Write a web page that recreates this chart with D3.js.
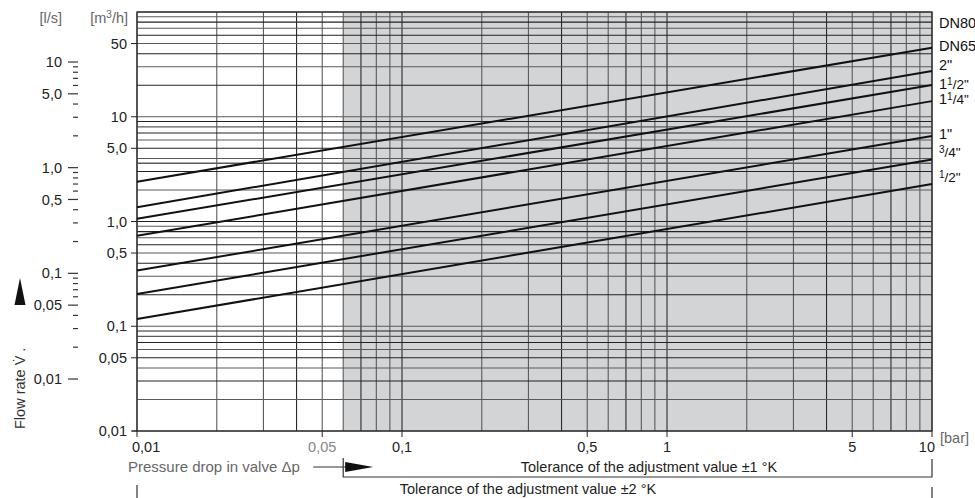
<!DOCTYPE html>
<html><head><meta charset="utf-8">
<script src="https://cdn.jsdelivr.net/npm/d3@7"></script>
<style>body{margin:0;background:#fff} svg{display:block;font-family:"Liberation Sans",Arial,Helvetica,sans-serif}</style>
</head><body><svg id="c" width="975" height="498"></svg>
<script>
// ---- data ----
const pipeSizes = ["DN80", "DN65", "2\"", "1 1/2\"", "1 1/4\"", "1\"", "3/4\"", "1/2\""];
const flowAtLowDp = [null, 2.40, 1.37, 1.06, 0.73, 0.34, 0.203, 0.117];   // m3/h at 0.01 bar
const flowAtHighDp = [75, 45.6, 27.3, 20.1, 14.1, 6.55, 3.91, 2.28];      // m3/h at 10 bar
const dpRange = [0.01, 10];
const shadedFrom = 0.06;
const m3hTicks = [50, 10, 5, 1, 0.5, 0.1, 0.05, 0.01];
const m3hTickLabels = ["50", "10", "5,0", "1,0", "0,5", "0,1", "0,05", "0,01"];
const lsTicks = [10, 5, 1, 0.5, 0.1, 0.05, 0.01];
const lsTickLabels = ["10", "5,0", "1,0", "0,5", "0,1", "0,05", "0,01"];
const dpTicks = [0.01, 0.05, 0.1, 0.5, 1, 5, 10];
const dpTickLabels = ["0,01", "0,05", "0,1", "0,5", "1", "5", "10"];
const extraFlowLines = [3.6];
const toleranceFrom = [0.06, 0.01];
const toleranceLabels = ["Tolerance of the adjustment value ±1 °K", "Tolerance of the adjustment value ±2 °K"];

// ---- layout ----
const L = 137, R = 932, T = 12, B = 431;
const svg = d3.select("#c");
const x = d3.scaleLog().domain([0.01, 10]).range([L, R]);
const y = d3.scaleLog().domain([0.01, 100]).range([B, T]);
const yls = d3.scaleLog().domain([0.01, 10]).range([379, 62]);

// shading
svg.append("rect").attr("x", x(shadedFrom)).attr("y", T)
  .attr("width", x(10) - x(shadedFrom)).attr("height", B - T).attr("fill", "#d3d4d6");

// grid
const gx = [], gy = [];
for (let d = 0.01; d < 10 - 1e-9; d *= 10) for (let k = 1; k <= 9; k++) gx.push(+(d * k).toPrecision(3));
gx.push(10);
for (let d = 0.01; d < 100 - 1e-9; d *= 10) for (let k = 1; k <= 9; k++) gy.push(+(d * k).toPrecision(3));
gy.push(100);
const grid = svg.append("g");
grid.selectAll("line.v").data(gx).join("line").attr("class", "v")
  .attr("x1", d => x(d)).attr("x2", d => x(d)).attr("y1", T).attr("y2", B)
  .attr("stroke", (d, i) => (i % 3 === 0 ? "#2a2a2a" : "#5a5a5a")).attr("stroke-width", 1.1);
grid.selectAll("line.h").data(gy.concat(extraFlowLines)).join("line").attr("class", "h")
  .attr("x1", L).attr("x2", R).attr("y1", d => y(d)).attr("y2", d => y(d))
  .attr("stroke", (d, i) => (i % 2 === 0 ? "#222" : "#5a5a5a"))
  .attr("stroke-width", d => extraFlowLines.includes(d) ? 1.6 : 1.1);

// frame
svg.append("rect").attr("x", L).attr("y", T).attr("width", R - L).attr("height", B - T)
  .attr("fill", "none").attr("stroke", "#333").attr("stroke-width", 1.2);

// characteristic lines
const line = d3.line().x(d => x(d[0])).y(d => y(d[1]));
const lines = pipeSizes.map((n, i) => ({ name: n, lo: flowAtLowDp[i], hi: flowAtHighDp[i] }));
svg.append("g").selectAll("path").data(lines.filter(d => d.lo != null)).join("path")
  .attr("d", d => line([[dpRange[0], d.lo], [dpRange[1], d.hi]]))
  .attr("fill", "none").attr("stroke", "#111").attr("stroke-width", 2);

// series labels
const labelNudge = { "2\"": -4, "1 1/2\"": 1 };
const lab = svg.append("g").attr("font-size", 14.5).attr("fill", "#111");
lines.forEach(d => {
  const t = lab.append("text").attr("x", R + 7).attr("y", y(d.hi) - 2 + (labelNudge[d.name] || 0)).attr("dy", "0.35em");
  const m = d.name.match(/^(?:(\d+) )?(\d)\/(\d)(")$/);
  if (m) {
    if (m[1]) t.append("tspan").text(m[1]);
    t.append("tspan").attr("font-size", 10).attr("dy", -4).text(m[2]);
    t.append("tspan").attr("font-size", 13.5).attr("dy", 4).text("/" + m[3] + m[4]);
  } else t.text(d.name);
});

// m3/h axis
const ya = svg.append("g").attr("font-size", 14.5).attr("fill", "#222");
m3hTicks.forEach((v, i) => {
  ya.append("line").attr("x1", L - 6).attr("x2", L).attr("y1", y(v)).attr("y2", y(v)).attr("stroke", "#222");
  ya.append("text").attr("x", L - 10).attr("y", y(v)).attr("dy", "0.35em").attr("text-anchor", "end").text(m3hTickLabels[i]);
});
svg.append("line").attr("x1", L - 5).attr("x2", L).attr("y1", B).attr("y2", B).attr("stroke", "#222");

// l/s axis
const la = svg.append("g").attr("font-size", 14.5).attr("fill", "#222");
const lsMinor = [];
for (let d = 0.01; d < 10 - 1e-9; d *= 10) for (let k = 2; k <= 9; k++) if (k !== 5) lsMinor.push(d * k);
lsMinor.forEach(v => la.append("line").attr("x1", 73).attr("x2", 78).attr("y1", yls(v)).attr("y2", yls(v))
  .attr("stroke", "#333").attr("stroke-width", 1.2));
lsTicks.forEach((v, i) => {
  la.append("line").attr("x1", 68).attr("x2", 78).attr("y1", yls(v)).attr("y2", yls(v)).attr("stroke", "#333").attr("stroke-width", 1.2);
  la.append("text").attr("x", 62).attr("y", yls(v)).attr("dy", "0.35em").attr("text-anchor", "end").text(lsTickLabels[i]);
});

// units
svg.append("text").attr("x", 62).attr("y", 23).attr("text-anchor", "end").attr("font-size", 14.5).attr("fill", "#666").text("[l/s]");
const mu = svg.append("text").attr("x", 128).attr("y", 23).attr("text-anchor", "end").attr("font-size", 14.5).attr("fill", "#666");
mu.append("tspan").text("[m");
mu.append("tspan").attr("font-size", 10).attr("dy", -5).text("3");
mu.append("tspan").attr("dy", 5).text("/h]");

// x axis
const xa = svg.append("g").attr("font-size", 14.5);
dpTicks.forEach((v, i) => {
  xa.append("line").attr("x1", x(v)).attr("x2", x(v)).attr("y1", B).attr("y2", B + 6).attr("stroke", "#222");
  const last = i === dpTicks.length - 1, first = i === 0;
  xa.append("text").attr("x", x(v) + (first ? -5 : last ? 3 : 0)).attr("y", B + 21)
    .attr("text-anchor", first ? "start" : last ? "end" : "middle")
    .attr("fill", v === 0.05 ? "#888" : "#222").text(dpTickLabels[i]);
});
svg.append("text").attr("x", R + 8).attr("y", B + 12).attr("font-size", 14.5).attr("fill", "#666").text("[bar]");

// pressure drop label + arrow
svg.append("text").attr("x", 128).attr("y", B + 41).attr("font-size", 15).attr("fill", "#666").text("Pressure drop in valve Δp");
const ax0 = x(toleranceFrom[0]);
svg.append("line").attr("x1", ax0 - 30).attr("x2", ax0 + 5).attr("y1", B + 36).attr("y2", B + 36).attr("stroke", "#333").attr("stroke-width", 1.2);
svg.append("path").attr("d", `M${ax0 + 30},${B + 36} L${ax0 + 2},${B + 31} L${ax0 + 2},${B + 41} Z`).attr("fill", "#111");

// tolerance brackets
const b1 = x(toleranceFrom[0]), b2 = x(toleranceFrom[1]);
svg.append("path").attr("d", `M${b1},${B + 27} V${B + 46} H${x(10)} V${B + 28}`).attr("fill", "none").attr("stroke", "#333").attr("stroke-width", 1.2);
svg.append("text").attr("x", 649).attr("y", B + 41).attr("text-anchor", "middle").attr("font-size", 14.5).attr("fill", "#222").text(toleranceLabels[0]);
svg.append("path").attr("d", `M${b2},${B + 54} V${B + 67} M${x(10)},${B + 56} V${B + 67}`).attr("fill", "none").attr("stroke", "#333").attr("stroke-width", 1.2);
svg.append("text").attr("x", 528).attr("y", B + 63).attr("text-anchor", "middle").attr("font-size", 14.5).attr("fill", "#222").text(toleranceLabels[1]);

// y title + arrow
svg.append("text").attr("transform", "translate(25,429) rotate(-90)").attr("font-size", 14.5).attr("fill", "#333").text("Flow rate V\u0307 .");
svg.append("path").attr("d", "M20,278 L25.5,305 L14.5,305 Z").attr("fill", "#111");
</script></body></html>
